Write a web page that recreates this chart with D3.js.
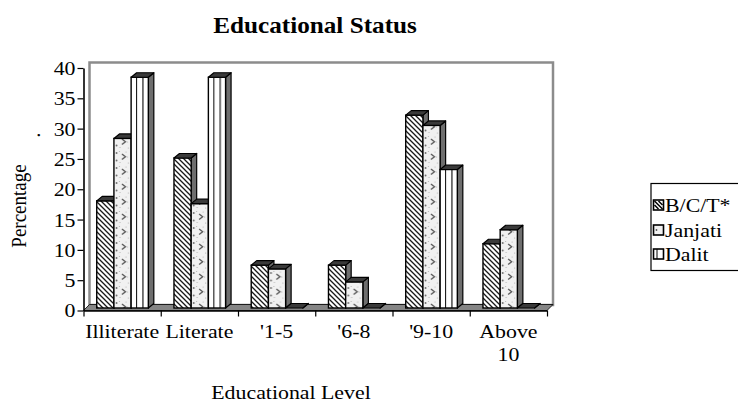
<!DOCTYPE html>
<html>
<head>
<meta charset="utf-8">
<script src="https://cdn.jsdelivr.net/npm/d3@7"></script>
<style>
  html, body { margin: 0; padding: 0; background: #fff; }
  svg { display: block; font-family: "Liberation Serif", "Times New Roman", serif; }
</style>
</head>
<body>
<svg id="chart" width="738" height="407"></svg>
<script>
// Educational level shares (%) by caste/ethnic group
const categories = ["Illiterate", "Literate", "'1-5", "'6-8", "'9-10", "Above 10"];
const seriesNames = ["B/C/T*", "Janjati", "Dalit"];
const bctValues = [17.86, 25.0, 7.14, 7.14, 32.14, 10.71];
const janjatiValues = [28.26, 17.39, 6.52, 4.35, 30.43, 13.04];
const dalitValues = [38.46, 38.46, 0, 0, 23.08, 0];
const yTicks = [0, 5, 10, 15, 20, 25, 30, 35, 40];

const series = [bctValues, janjatiValues, dalitValues];

const SX = 1.15;          // horizontal stretch applied to text
const FONT = 19;

const svg = d3.select("#chart");
const defs = svg.append("defs");

// ---- scales ----
const x0 = 83.5, x1 = 547;
const x = d3.scaleBand().domain(categories).range([x0, x1]).paddingInner(0).paddingOuter(0);
const bw = x.bandwidth();
const xEdge = d3.scaleLinear().domain([0, categories.length]).range([x0, x1]);
const yAxisScale = d3.scaleLinear().domain([0, 40]).range([310.5, 68]);
const yBar = d3.scaleLinear().domain([0, 40]).range([308, 68]);

const wallD = { dx: 6, dy: -6 };
const barD = { dx: 5.5, dy: -4.5 };
const barW = 17.2;
const barOff = (bw - barW * series.length) / 2 + 0.4;

// ---- fill patterns ----
const bctPat = defs.append("pattern").attr("id", "pBct")
  .attr("patternUnits", "userSpaceOnUse").attr("width", 5).attr("height", 5);
bctPat.append("rect").attr("width", 5).attr("height", 5).attr("fill", "#fff");
bctPat.append("path").attr("d", "M-1,-1L6,6M-1,4L1,6M4,-1L6,1")
  .attr("stroke", "#1a1a1a").attr("stroke-width", 1.3);

const janX = x(categories[0]) + barOff + barW;
const janPat = defs.append("pattern").attr("id", "pJan")
  .attr("patternUnits", "userSpaceOnUse").attr("x", janX).attr("y", 0)
  .attr("width", bw).attr("height", 15);
janPat.append("rect").attr("width", bw).attr("height", 15).attr("fill", "#f1f1f1");
janPat.append("path").attr("d", "M8,4L11.5,6.8L8,9.6")
  .attr("fill", "none").attr("stroke", "#555").attr("stroke-width", 1.3);
[[2.6, 3], [2.6, 10.5]].forEach(([cx, cy]) =>
  janPat.append("circle").attr("cx", cx).attr("cy", cy).attr("r", 0.9).attr("fill", "#666"));
[[5.5, 1.5], [13.5, 7], [6, 12.5], [14.5, 13], [12, 2]].forEach(([cx, cy]) =>
  janPat.append("circle").attr("cx", cx).attr("cy", cy).attr("r", 0.55).attr("fill", "#aaa"));

const dalX = x(categories[0]) + barOff + barW * 2;
const dalPat = defs.append("pattern").attr("id", "pDal")
  .attr("patternUnits", "userSpaceOnUse").attr("x", dalX).attr("y", 0)
  .attr("width", bw).attr("height", 10);
dalPat.append("rect").attr("width", bw).attr("height", 10).attr("fill", "#fff");
dalPat.append("line").attr("x1", 5.5).attr("x2", 5.5).attr("y1", 0).attr("y2", 10)
  .attr("stroke", "#000").attr("stroke-width", 1);
dalPat.append("line").attr("x1", 11.8).attr("x2", 11.8).attr("y1", 0).attr("y2", 10)
  .attr("stroke", "#555").attr("stroke-width", 1.6);

const fills = ["url(#pBct)", "url(#pJan)", "url(#pDal)"];

// ---- text helper ----
function label(parent, tx, ty, str, opts = {}) {
  const { size = FONT, anchor = "start", weight = "normal", sx = SX } = opts;
  return parent.append("text")
    .attr("transform", `translate(${tx},${ty}) scale(${sx},1)`)
    .attr("text-anchor", anchor)
    .attr("font-size", size)
    .attr("font-weight", weight)
    .attr("fill", "#000")
    .text(str);
}

// ---- title ----
label(svg, 315, 33, "Educational Status", { size: 24, anchor: "middle", weight: "bold", sx: 1.05 });

// ---- walls and floor ----
const yTop = yAxisScale(40), yZero = yAxisScale(0);
svg.append("rect")
  .attr("x", x0 + wallD.dx).attr("y", yTop + wallD.dy + 0.5)
  .attr("width", x1 - x0).attr("height", yZero - yTop)
  .attr("fill", "#fff").attr("stroke", "#8c8c8c").attr("stroke-width", 2.5);

svg.append("polygon")
  .attr("points", [
    [x0, yZero], [x1, yZero], [x1 + wallD.dx, yZero + wallD.dy], [x0 + wallD.dx, yZero + wallD.dy]
  ].map(p => p.join(",")).join(" "))
  .attr("fill", "#858585").attr("stroke", "#000").attr("stroke-width", 0.8);

// ---- bars (3-D columns) ----
const bars = svg.append("g");
categories.forEach((cat, ci) => {
  series.forEach((vals, si) => {
    const v = vals[ci];
    const bx = x(cat) + barOff + si * barW;
    const by = yBar(v), b0 = yBar(0);
    const g = bars.append("g");
    // side face
    g.append("polygon")
      .attr("points", [[bx + barW, by], [bx + barW + barD.dx, by + barD.dy],
        [bx + barW + barD.dx, b0 + barD.dy], [bx + barW, b0]].map(p => p.join(",")).join(" "))
      .attr("fill", "#6e6e6e").attr("stroke", "#000").attr("stroke-width", 1.2)
      .attr("stroke-linejoin", "round");
    // front face
    g.append("rect")
      .attr("x", bx).attr("y", by).attr("width", barW).attr("height", b0 - by)
      .attr("fill", fills[si]).attr("stroke", "#000").attr("stroke-width", 1.4);
    // top face
    g.append("polygon")
      .attr("points", [[bx, by], [bx + barD.dx, by + barD.dy], [bx + barW + barD.dx, by + barD.dy],
        [bx + barW, by]].map(p => p.join(",")).join(" "))
      .attr("fill", "#3a3a3a").attr("stroke", "#000").attr("stroke-width", 1.2)
      .attr("stroke-linejoin", "round");
  });
});

// ---- axes ----
const yAxis = d3.axisLeft(yAxisScale).tickValues(yTicks).tickSize(6).tickSizeOuter(0).tickPadding(8);
const gy = svg.append("g").attr("transform", `translate(${x0},0)`).call(yAxis);
gy.select(".domain").attr("stroke", "#000").attr("stroke-width", 1.6);
gy.selectAll(".tick line").attr("stroke", "#000").attr("stroke-width", 1.2);
gy.selectAll(".tick text")
  .attr("font-family", "Liberation Serif, Times New Roman, serif")
  .attr("font-size", FONT)
  .attr("fill", "#000")
  .attr("dy", "0.34em")
  .attr("transform", `scale(${SX},1)`)
  .attr("x", -8 / SX);

const xAxis = d3.axisBottom(xEdge).tickValues(d3.range(categories.length + 1))
  .tickSize(6).tickSizeOuter(0).tickFormat("");
const gx = svg.append("g").attr("transform", `translate(0,${yZero})`).call(xAxis);
gx.select(".domain").attr("stroke", "#000").attr("stroke-width", 1.6);
gx.selectAll(".tick line").attr("stroke", "#000").attr("stroke-width", 1.2);

// category labels, wrapped to the band width
const measure = svg.append("text").attr("font-size", FONT).attr("visibility", "hidden");
function textWidth(s) { measure.text(s); return measure.node().getComputedTextLength() * SX; }
const lineStep = 23;
categories.forEach(cat => {
  const words = cat.split(" ");
  const lines = [];
  let cur = "";
  words.forEach(w => {
    const trial = cur ? cur + " " + w : w;
    if (cur && textWidth(trial) > bw - 2) { lines.push(cur); cur = w; } else { cur = trial; }
  });
  lines.push(cur);
  lines.forEach((ln, li) => label(svg, x(cat) + bw / 2, 337.5 + li * lineStep, ln, { anchor: "middle" }));
});
measure.remove();

// ---- axis titles ----
label(svg, 291, 399, "Educational Level", { anchor: "middle" });

svg.append("text")
  .attr("transform", `translate(26,206) scale(${SX},1) rotate(-90)`)
  .attr("text-anchor", "middle")
  .attr("font-size", FONT).attr("fill", "#000")
  .text("Percentage");
svg.append("text")
  .attr("transform", `translate(40,135) scale(${SX},1) rotate(-90)`)
  .attr("text-anchor", "middle")
  .attr("font-size", FONT).attr("fill", "#000")
  .text(".");

// ---- legend ----
const lg = svg.append("g");
lg.append("rect").attr("x", 651).attr("y", 183.5).attr("width", 120).attr("height", 87)
  .attr("fill", "#fff").attr("stroke", "#000").attr("stroke-width", 1.2);
const legendY = [205, 230, 254];
seriesNames.forEach((name, i) => {
  const cy = legendY[i];
  const sw = lg.append("g").attr("transform", `translate(653.5,${cy - 5})`);
  sw.append("rect").attr("width", 10).attr("height", 10)
    .attr("fill", i === 1 ? "#f1f1f1" : "#fff");
  if (i === 0) {
    sw.append("path").attr("d", "M1,1L9,9M1,5L5,9M5,1L9,5").attr("stroke", "#000").attr("stroke-width", 1.5);
  } else if (i === 1) {
    sw.append("circle").attr("cx", 3).attr("cy", 5).attr("r", 0.9).attr("fill", "#555");
  } else {
    sw.append("line").attr("x1", 3.5).attr("x2", 3.5).attr("y1", 0).attr("y2", 10)
      .attr("stroke", "#000").attr("stroke-width", 1);
  }
  sw.append("rect").attr("width", 10).attr("height", 10)
    .attr("fill", "none").attr("stroke", "#000").attr("stroke-width", 1.6);
  label(lg, 665, cy + 6.5, name);
});
</script>
</body>
</html>
